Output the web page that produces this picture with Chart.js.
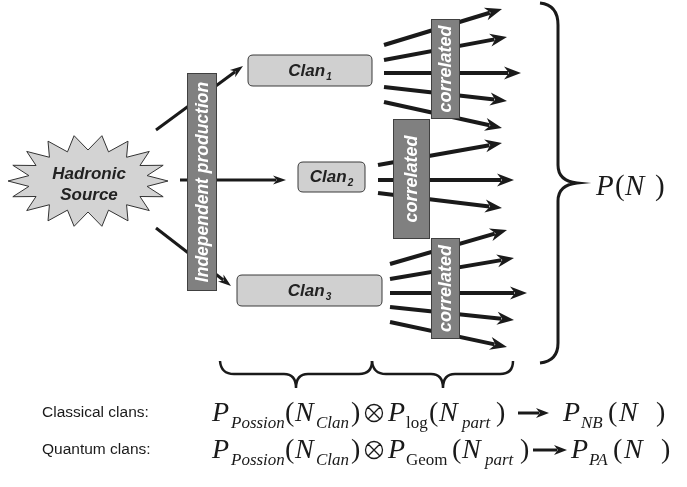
<!DOCTYPE html>
<html>
<head>
<meta charset="utf-8">
<script src="https://cdn.jsdelivr.net/npm/chart.js@4.4.1/dist/chart.umd.min.js"></script>
<style>
  html, body { margin: 0; padding: 0; background: #fff; }
  #wrap { width: 687px; height: 487px; }
</style>
</head>
<body>
<div id="wrap"><canvas id="diagram" width="687" height="487"></canvas></div>
<script>
// --- diagram content (coordinates in picture units, 687 x 487) ---
const sourceLines = ['Hadronic', 'Source'];
const clanNames = ['1', '2', '3'];
const barLabels = ['Independent production', 'correlated', 'correlated', 'correlated'];
const rowLabels = ['Classical clans:', 'Quantum clans:'];

// arrows from the source to each clan: [x0, y0, x1, y1]
const sourceArrows = [
    [156, 130, 243, 66],
    [180, 180, 286, 180],
    [156, 228, 231, 286]
];

// particle arrows per clan: start x, then [y0, tipX, tipY] for every particle
const groupStartX = [384, 378, 390];
const clan1Particles = [[45, 502, 9], [60, 507, 37], [73, 521, 73], [87, 507, 101], [102, 502, 128]];
const clan2Particles = [[165, 502, 143], [180, 514, 180], [193, 502, 208]];
const clan3Particles = [[264, 507, 230], [279, 514, 258], [293, 527, 293], [307, 514, 320], [322, 507, 347]];

// formula tokens: [text, kind]
const classicalFormula = [
    ['P', 'it'], ['Possion', 'sub'], ['(', 'rm'], ['N', 'it'], ['Clan', 'sub'], [')', 'rm'],
    ['', 'op'], ['P', 'it'], ['log', 'subrm'], ['(', 'rm'], ['N', 'it'], ['part', 'sub'], [')', 'rm'],
    ['', 'arrow'], ['P', 'it'], ['NB', 'sub'], ['(', 'rm'], ['N', 'it'], [')', 'rm']
];
const quantumFormula = [
    ['P', 'it'], ['Possion', 'sub'], ['(', 'rm'], ['N', 'it'], ['Clan', 'sub'], [')', 'rm'],
    ['', 'op'], ['P', 'it'], ['Geom', 'subrm'], ['(', 'rm'], ['N', 'it'], ['part', 'sub'], [')', 'rm'],
    ['', 'arrow'], ['P', 'it'], ['PA', 'sub'], ['(', 'rm'], ['N', 'it'], [')', 'rm']
];

// --- layout ---
const clanBoxes = [[248, 55, 372, 86], [298, 162, 365, 192], [237, 275, 382, 306]];
const bars = [[187, 73, 217, 291], [431, 19, 460, 119], [393, 119, 430, 239], [431, 238, 460, 339]];
const groups = [clan1Particles, clan2Particles, clan3Particles];
const classicalX = [212, 231, 285, 295, 316, 351, 365, 388, 406, 429, 439, 462, 496, 518, 563, 581, 608, 619, 656];
const quantumX = [212, 231, 285, 295, 316, 351, 365, 388, 406, 452, 462, 485, 520, 533, 571, 589, 613, 624, 661];

const sans = '"Liberation Sans", Arial, sans-serif';
const serif = '"Liberation Serif", "Times New Roman", serif';

function arrow(ctx, x0, y0, x1, y1, width, headLen, headHalf) {
    const ang = Math.atan2(y1 - y0, x1 - x0);
    const cos = Math.cos(ang), sin = Math.sin(ang);
    const bx = x1 - cos * headLen * 0.75, by = y1 - sin * headLen * 0.75;
    ctx.beginPath();
    ctx.lineWidth = width;
    ctx.lineCap = 'butt';
    ctx.moveTo(x0, y0);
    ctx.lineTo(bx, by);
    ctx.stroke();
    const rx = x1 - cos * headLen, ry = y1 - sin * headLen;
    ctx.beginPath();
    ctx.moveTo(x1, y1);
    ctx.lineTo(rx - sin * headHalf, ry + cos * headHalf);
    ctx.lineTo(x1 - cos * headLen * 0.7, y1 - sin * headLen * 0.7);
    ctx.lineTo(rx + sin * headHalf, ry - cos * headHalf);
    ctx.closePath();
    ctx.fill();
}

function roundRect(ctx, x0, y0, x1, y1, r) {
    ctx.beginPath();
    ctx.moveTo(x0 + r, y0);
    ctx.lineTo(x1 - r, y0);
    ctx.quadraticCurveTo(x1, y0, x1, y0 + r);
    ctx.lineTo(x1, y1 - r);
    ctx.quadraticCurveTo(x1, y1, x1 - r, y1);
    ctx.lineTo(x0 + r, y1);
    ctx.quadraticCurveTo(x0, y1, x0, y1 - r);
    ctx.lineTo(x0, y0 + r);
    ctx.quadraticCurveTo(x0, y0, x0 + r, y0);
    ctx.closePath();
}

function drawFormula(ctx, X, Y, formula, xs, base, arrowEnd) {
    const yb = Y(base);
    formula.forEach(([t, kind], i) => {
        const x = X(xs[i]);
        if (kind === 'op') {
            const cx = x + 9, cy = yb - 8, r = 8.5;
            ctx.lineWidth = 1.3;
            ctx.beginPath();
            ctx.arc(cx, cy, r, 0, Math.PI * 2);
            ctx.moveTo(cx - r * 0.7, cy - r * 0.7); ctx.lineTo(cx + r * 0.7, cy + r * 0.7);
            ctx.moveTo(cx + r * 0.7, cy - r * 0.7); ctx.lineTo(cx - r * 0.7, cy + r * 0.7);
            ctx.stroke();
            return;
        }
        if (kind === 'arrow') {
            arrow(ctx, x, yb - 8, X(arrowEnd), yb - 8, 3, 13, 5);
            return;
        }
        let font, dy = 0;
        if (kind === 'it') font = 'italic 28px ' + serif;
        else if (kind === 'rm') font = '28px ' + serif;
        else if (kind === 'sub') { font = 'italic 17px ' + serif; dy = 7; }
        else { font = '17px ' + serif; dy = 7; }
        ctx.font = font;
        ctx.fillText(t, x, yb + dy);
    });
}

function drawBrace(ctx, pts, lw) {
    ctx.lineWidth = lw;
    ctx.beginPath();
    ctx.moveTo(pts[0][0], pts[0][1]);
    for (let i = 1; i < pts.length; i += 2) {
        ctx.quadraticCurveTo(pts[i][0], pts[i][1], pts[i + 1][0], pts[i + 1][1]);
    }
    ctx.stroke();
}

const diagramPlugin = {
    id: 'diagram',
    afterDatasetsDraw(chart) {
        const ctx = chart.ctx;
        const X = v => chart.scales.x.getPixelForValue(v);
        const Y = v => chart.scales.y.getPixelForValue(v);
        ctx.save();
        ctx.lineJoin = 'miter';

        // star-shaped source
        const spikes = 18, cx = X(88), cy = Y(181);
        ctx.beginPath();
        for (let i = 0; i < spikes * 2; i++) {
            const a = Math.PI * i / spikes + Math.PI;
            const outer = i % 2 === 0;
            const rx = outer ? 80 : 60, ry = outer ? 46 : 31;
            const px = cx + Math.cos(a) * rx, py = cy + Math.sin(a) * ry;
            if (i === 0) ctx.moveTo(px, py); else ctx.lineTo(px, py);
        }
        ctx.closePath();
        ctx.fillStyle = '#d3d3d3';
        ctx.fill();
        ctx.lineWidth = 1;
        ctx.strokeStyle = '#333';
        ctx.stroke();
        ctx.fillStyle = '#222';
        ctx.font = 'bold italic 17px ' + sans;
        ctx.textAlign = 'center';
        ctx.fillText(sourceLines[0], X(89), Y(179));
        ctx.fillText(sourceLines[1], X(89), Y(200));
        ctx.textAlign = 'left';

        // source -> clan arrows
        ctx.strokeStyle = '#1a1a1a';
        ctx.fillStyle = '#1a1a1a';
        sourceArrows.forEach(a => arrow(ctx, X(a[0]), Y(a[1]), X(a[2]), Y(a[3]), 3, 13, 4.5));

        // clan boxes
        clanBoxes.forEach((b, i) => {
            roundRect(ctx, X(b[0]), Y(b[1]), X(b[2]), Y(b[3]), 5);
            ctx.fillStyle = '#d0d0d0';
            ctx.fill();
            ctx.lineWidth = 1;
            ctx.strokeStyle = '#3a3a3a';
            ctx.stroke();
            ctx.fillStyle = '#222';
            ctx.font = 'bold italic 17px ' + sans;
            const w1 = ctx.measureText('Clan').width;
            ctx.font = 'bold italic 10px ' + sans;
            const w2 = ctx.measureText(clanNames[i]).width;
            const x0 = (X(b[0]) + X(b[2])) / 2 - (w1 + w2 + 1) / 2;
            const yb = (Y(b[1]) + Y(b[3])) / 2 + 5;
            ctx.font = 'bold italic 17px ' + sans;
            ctx.fillText('Clan', x0, yb);
            ctx.font = 'bold italic 10px ' + sans;
            ctx.fillText(clanNames[i], x0 + w1 + 1, yb + 4);
        });

        // particle arrows
        ctx.strokeStyle = '#1a1a1a';
        ctx.fillStyle = '#1a1a1a';
        groups.forEach((g, gi) => {
            g.forEach(p => arrow(ctx, X(groupStartX[gi]), Y(p[0]), X(p[1]), Y(p[2]), 4, 17, 6.5));
        });

        // grey bars with vertical labels
        bars.forEach((b, i) => {
            const x0 = X(b[0]), y0 = Y(b[1]), x1 = X(b[2]), y1 = Y(b[3]);
            ctx.fillStyle = '#808080';
            ctx.fillRect(x0, y0, x1 - x0, y1 - y0);
            ctx.lineWidth = 1;
            ctx.strokeStyle = '#404040';
            ctx.strokeRect(x0 + 0.5, y0 + 0.5, x1 - x0 - 1, y1 - y0 - 1);
            ctx.save();
            ctx.translate((x0 + x1) / 2, (y0 + y1) / 2);
            ctx.rotate(-Math.PI / 2);
            ctx.fillStyle = '#fff';
            ctx.font = 'bold italic ' + (i === 0 ? 17.5 : 18) + 'px ' + sans;
            ctx.textAlign = 'center';
            ctx.textBaseline = 'middle';
            ctx.fillText(barLabels[i], 0, 1);
            ctx.restore();
        });

        ctx.strokeStyle = '#1a1a1a';
        ctx.fillStyle = '#1a1a1a';
        // big right brace
        drawBrace(ctx, [
            [X(540), Y(3)], [X(558), Y(5)], [X(558), Y(25)],
            [X(558), Y(100)], [X(558), Y(165)],
            [X(558), Y(181)], [X(577), Y(183)],
            [X(558), Y(185)], [X(558), Y(201)],
            [X(558), Y(280)], [X(558), Y(343)],
            [X(558), Y(361)], [X(540), Y(363)]
        ], 3);
        ctx.font = 'italic 29px ' + serif;
        ctx.fillText('P', X(596), Y(195));
        ctx.font = '29px ' + serif;
        ctx.fillText('(', X(615), Y(195));
        ctx.font = 'italic 29px ' + serif;
        ctx.fillText('N', X(625), Y(195));
        ctx.font = '29px ' + serif;
        ctx.fillText(')', X(655), Y(195));

        // bottom braces
        drawBrace(ctx, [
            [X(220), Y(361)], [X(221), Y(374)], [X(234), Y(374)],
            [X(260), Y(374)], [X(284), Y(374)],
            [X(296), Y(374)], [X(296), Y(388)],
            [X(296), Y(374)], [X(308), Y(374)],
            [X(335), Y(374)], [X(359), Y(374)],
            [X(372), Y(374)], [X(372), Y(361)]
        ], 2.5);
        drawBrace(ctx, [
            [X(372), Y(361)], [X(373), Y(374)], [X(386), Y(374)],
            [X(410), Y(374)], [X(431), Y(374)],
            [X(443), Y(374)], [X(443), Y(388)],
            [X(443), Y(374)], [X(455), Y(374)],
            [X(478), Y(374)], [X(500), Y(374)],
            [X(513), Y(374)], [X(513), Y(361)]
        ], 2.5);

        // row labels and formulas
        ctx.fillStyle = '#1a1a1a';
        ctx.font = '15.5px ' + sans;
        ctx.fillText(rowLabels[0], X(42), Y(417));
        ctx.fillText(rowLabels[1], X(42), Y(454));
        drawFormula(ctx, X, Y, classicalFormula, classicalX, 421, 549);
        drawFormula(ctx, X, Y, quantumFormula, quantumX, 458, 567);
        ctx.restore();
    }
};

new Chart(document.getElementById('diagram'), {
    type: 'scatter',
    data: { datasets: [{ data: [], pointRadius: 0 }] },
    options: {
        responsive: false,
        animation: false,
        events: [],
        layout: { padding: 0 },
        plugins: { legend: { display: false }, tooltip: { enabled: false } },
        scales: {
            x: { type: 'linear', min: 0, max: 687, display: false },
            y: { type: 'linear', min: 0, max: 487, reverse: true, display: false }
        }
    },
    plugins: [diagramPlugin]
});
</script>
</body>
</html>
